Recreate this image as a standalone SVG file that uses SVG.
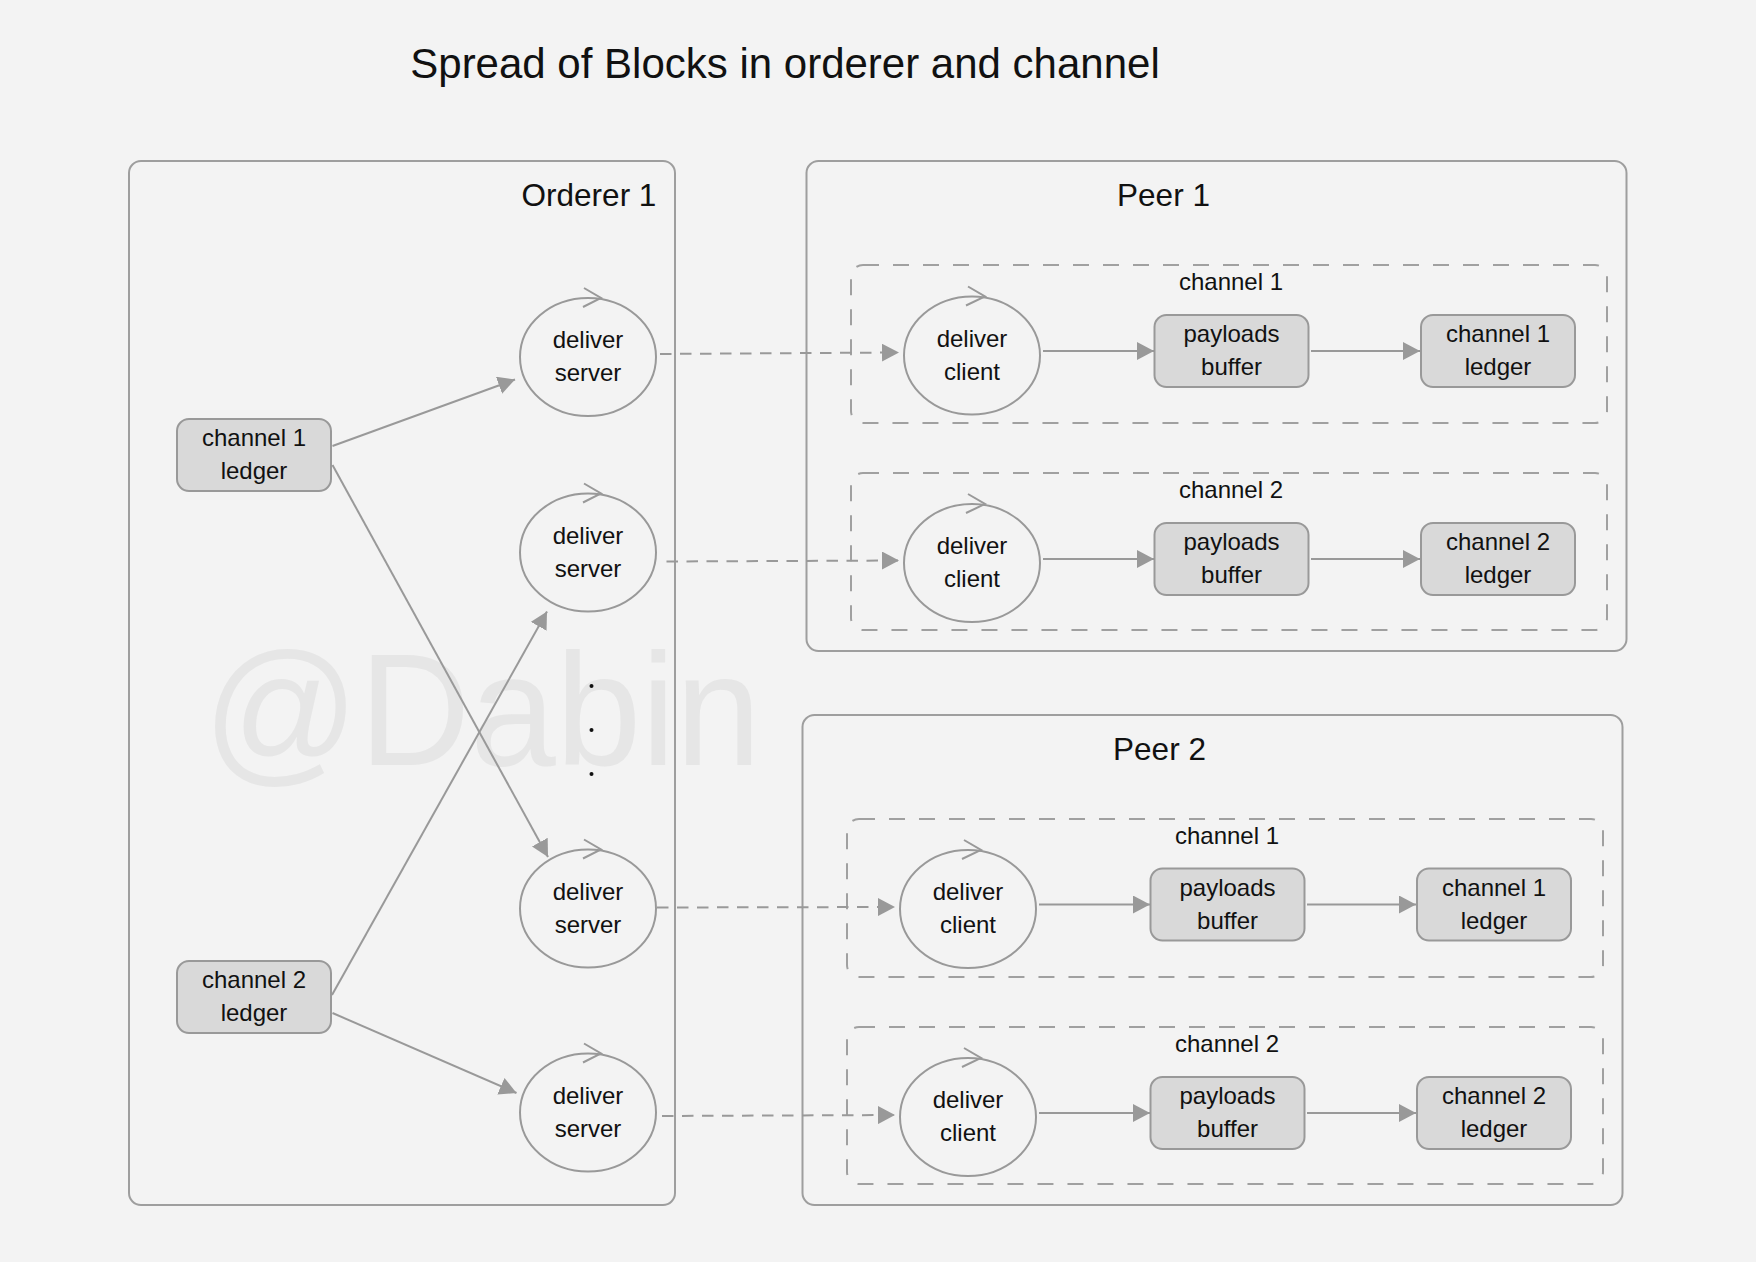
<svg xmlns="http://www.w3.org/2000/svg" width="1756" height="1262" viewBox="0 0 1756 1262">
<style>
text{font-family:"Liberation Sans",Arial,sans-serif;fill:#111;}
.t{font-size:42px;text-anchor:middle;}
.h{font-size:31.5px;text-anchor:middle;}
.n{font-size:24px;text-anchor:middle;}
.wm{font-size:160px;fill:#e6e6e6;}
.box{fill:none;stroke:#9e9e9e;stroke-width:2;}
.ch{fill:none;stroke:#a0a0a0;stroke-width:2;stroke-dasharray:16 14;}
.nd{fill:#d9d9d9;stroke:#999;stroke-width:2;}
.el{fill:none;stroke:#999;stroke-width:2;}
.cv{fill:none;stroke:#999;stroke-width:2;}
.ln{fill:none;stroke:#999;stroke-width:2;marker-end:url(#ah);}
.dl{fill:none;stroke:#999;stroke-width:2;stroke-dasharray:11.5 8.5;marker-end:url(#ah);}
</style>
<defs>
<marker id="ah" markerUnits="userSpaceOnUse" markerWidth="18" markerHeight="18" refX="17" refY="9" orient="auto">
<path d="M0,0 L17,9 L0,18 Z" fill="#999"/>
</marker>
</defs>
<rect width="1756" height="1262" fill="#f3f3f3"/>
<text class="wm" x="203" y="765" textLength="558" lengthAdjust="spacingAndGlyphs">@Dabin</text>
<text class="t" x="785" y="78">Spread of Blocks in orderer and channel</text>

<g id="orderer1">
<rect class="box" x="129" y="161" width="546" height="1044" rx="12"/>
<text class="h" x="589" y="206">Orderer 1</text>
</g>
<g id="peer1">
<rect class="box" x="806.5" y="161" width="820" height="490" rx="12"/>
<text class="h" x="1163.5" y="206">Peer 1</text>
</g>
<g id="peer2">
<rect class="box" x="802.5" y="715" width="820" height="490" rx="12"/>
<text class="h" x="1159.5" y="760">Peer 2</text>
</g>

<g id="p1-channel1"><rect class="ch" x="851" y="265" width="756" height="158" rx="12"/><text class="n" x="1231" y="290">channel 1</text></g>
<g id="p1-channel2"><rect class="ch" x="851" y="473" width="756" height="157" rx="12"/><text class="n" x="1231" y="498">channel 2</text></g>
<g id="p2-channel1"><rect class="ch" x="847" y="819" width="756" height="158" rx="12"/><text class="n" x="1227" y="844">channel 1</text></g>
<g id="p2-channel2"><rect class="ch" x="847" y="1027" width="756" height="157" rx="12"/><text class="n" x="1227" y="1052">channel 2</text></g>

<g id="o-ledger1"><rect class="nd" x="177" y="419" width="154" height="72" rx="12"/><text class="n" x="254" y="446">channel 1</text><text class="n" x="254" y="479">ledger</text></g>
<g id="o-ledger2"><rect class="nd" x="177" y="961" width="154" height="72" rx="12"/><text class="n" x="254" y="988">channel 2</text><text class="n" x="254" y="1021">ledger</text></g>

<g id="server1"><ellipse class="el" cx="588" cy="357" rx="68" ry="59"/><polyline class="cv" points="584,288 601,298 583,307"/><text class="n" x="588" y="348">deliver</text><text class="n" x="588" y="381">server</text></g>
<g id="server2"><ellipse class="el" cx="588" cy="552.5" rx="68" ry="59"/><polyline class="cv" points="584,483.5 601,493.5 583,502.5"/><text class="n" x="588" y="543.5">deliver</text><text class="n" x="588" y="576.5">server</text></g>
<g id="server3"><ellipse class="el" cx="588" cy="908.5" rx="68" ry="59"/><polyline class="cv" points="584,839.5 601,849.5 583,858.5"/><text class="n" x="588" y="899.5">deliver</text><text class="n" x="588" y="932.5">server</text></g>
<g id="server4"><ellipse class="el" cx="588" cy="1112.5" rx="68" ry="59"/><polyline class="cv" points="584,1043.5 601,1053.5 583,1062.5"/><text class="n" x="588" y="1103.5">deliver</text><text class="n" x="588" y="1136.5">server</text></g>

<g id="dots"><circle cx="591.5" cy="686" r="2" fill="#111"/><circle cx="591.5" cy="730" r="2" fill="#111"/><circle cx="591.5" cy="774" r="2" fill="#111"/></g>

<g id="p1c1-client"><ellipse class="el" cx="972" cy="355.5" rx="68" ry="59"/><polyline class="cv" points="968,286.5 985,296.5 966,305.5"/><text class="n" x="972" y="346.5">deliver</text><text class="n" x="972" y="379.5">client</text></g>
<g id="p1c1-buffer"><rect class="nd" x="1154.5" y="315" width="154" height="72" rx="12"/><text class="n" x="1231.5" y="342">payloads</text><text class="n" x="1231.5" y="375">buffer</text></g>
<g id="p1c1-ledger"><rect class="nd" x="1421" y="315" width="154" height="72" rx="12"/><text class="n" x="1498" y="342">channel 1</text><text class="n" x="1498" y="375">ledger</text></g>

<g id="p1c2-client"><ellipse class="el" cx="972" cy="563" rx="68" ry="59"/><polyline class="cv" points="968,494 985,504 966,513"/><text class="n" x="972" y="554">deliver</text><text class="n" x="972" y="587">client</text></g>
<g id="p1c2-buffer"><rect class="nd" x="1154.5" y="523" width="154" height="72" rx="12"/><text class="n" x="1231.5" y="550">payloads</text><text class="n" x="1231.5" y="583">buffer</text></g>
<g id="p1c2-ledger"><rect class="nd" x="1421" y="523" width="154" height="72" rx="12"/><text class="n" x="1498" y="550">channel 2</text><text class="n" x="1498" y="583">ledger</text></g>

<g id="p2c1-client"><ellipse class="el" cx="968" cy="909" rx="68" ry="59"/><polyline class="cv" points="964,840 981,850 962,859"/><text class="n" x="968" y="900">deliver</text><text class="n" x="968" y="933">client</text></g>
<g id="p2c1-buffer"><rect class="nd" x="1150.5" y="868.5" width="154" height="72" rx="12"/><text class="n" x="1227.5" y="895.5">payloads</text><text class="n" x="1227.5" y="928.5">buffer</text></g>
<g id="p2c1-ledger"><rect class="nd" x="1417" y="868.5" width="154" height="72" rx="12"/><text class="n" x="1494" y="895.5">channel 1</text><text class="n" x="1494" y="928.5">ledger</text></g>

<g id="p2c2-client"><ellipse class="el" cx="968" cy="1117" rx="68" ry="59"/><polyline class="cv" points="964,1048 981,1058 962,1067"/><text class="n" x="968" y="1108">deliver</text><text class="n" x="968" y="1141">client</text></g>
<g id="p2c2-buffer"><rect class="nd" x="1150.5" y="1077" width="154" height="72" rx="12"/><text class="n" x="1227.5" y="1104">payloads</text><text class="n" x="1227.5" y="1137">buffer</text></g>
<g id="p2c2-ledger"><rect class="nd" x="1417" y="1077" width="154" height="72" rx="12"/><text class="n" x="1494" y="1104">channel 2</text><text class="n" x="1494" y="1137">ledger</text></g>

<g id="connectors">
<path class="ln" d="M332.5,446 L515,379.5"/>
<path class="ln" d="M332.5,465 L548,857"/>
<path class="ln" d="M332,995 L547,611.5"/>
<path class="ln" d="M332.5,1013 L516.5,1093"/>
<path class="dl" d="M660,354 L899,352.5"/>
<path class="dl" d="M666.5,561.5 L899,560.5"/>
<path class="dl" d="M657,907.5 L895,907"/>
<path class="dl" d="M662,1116 L895,1115"/>
<path class="ln" d="M1043,351 L1154,351"/>
<path class="ln" d="M1311,351 L1420,351"/>
<path class="ln" d="M1043,559 L1154,559"/>
<path class="ln" d="M1311,559 L1420,559"/>
<path class="ln" d="M1039,904.5 L1150,904.5"/>
<path class="ln" d="M1307,904.5 L1416,904.5"/>
<path class="ln" d="M1039,1113 L1150,1113"/>
<path class="ln" d="M1307,1113 L1416,1113"/>
</g>
</svg>
